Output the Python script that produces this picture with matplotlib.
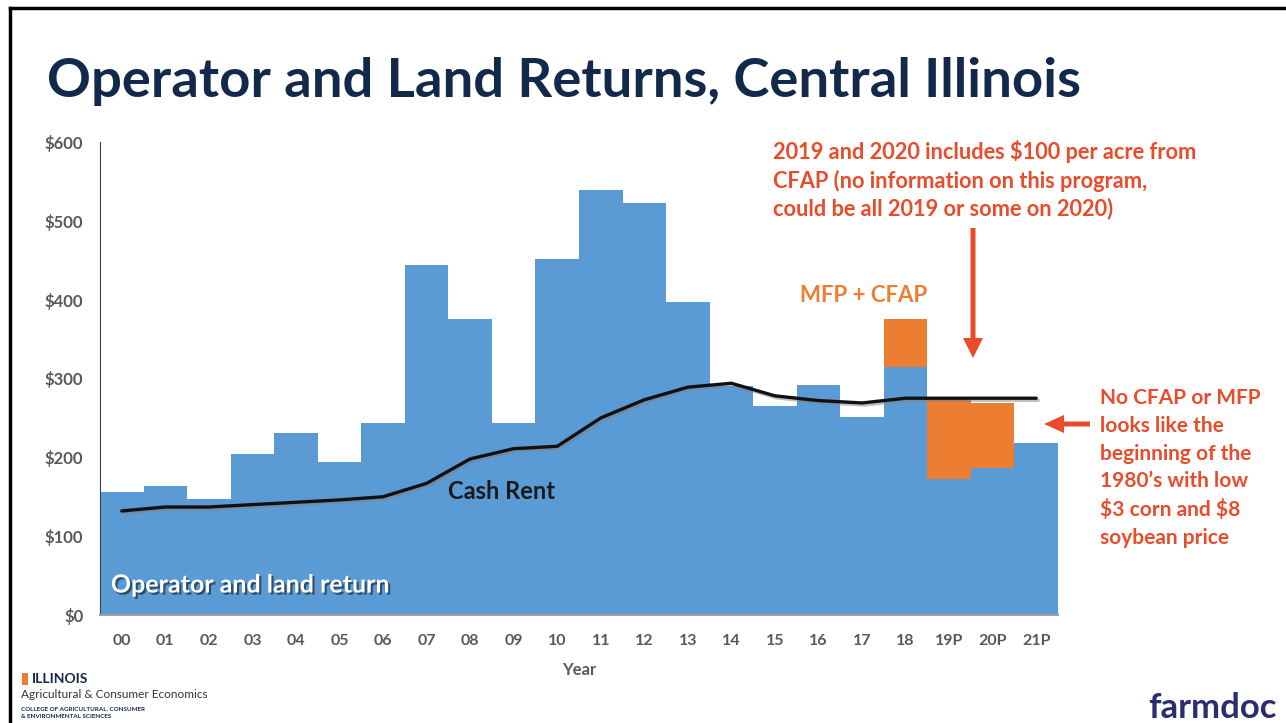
import matplotlib
matplotlib.use('Agg')
import matplotlib.pyplot as plt
import matplotlib.patheffects as pe
from matplotlib.patches import Rectangle, FancyArrow

plt.rcParams['font.family'] = ['Lato', 'DejaVu Sans']
plt.rcParams['text.parse_math'] = False

# data
years = ['00', '01', '02', '03', '04', '05', '06', '07', '08', '09', '10',
         '11', '12', '13', '14', '15', '16', '17', '18', '19P', '20P', '21P']
operator_return = [156, 164, 147, 204, 231, 194, 244, 444, 376, 244, 451,
                   539, 522, 397, 290, 265, 292, 251, 315, 173, 187, 218]
mfp_cfap = [0, 0, 0, 0, 0, 0, 0, 0, 0, 0, 0,
            0, 0, 0, 0, 0, 0, 0, 61, 101, 82, 0]
cash_rent = [132, 137, 137, 140, 143, 146, 150, 167, 198, 211, 214,
             250, 273, 289, 294, 278, 272, 269, 275, 275, 275, 275]
yticks = [0, 100, 200, 300, 400, 500, 600]

BLUE = '#5B9BD5'
ORANGE = '#ED7D31'
RED = '#E84C2A'
NAVY = '#13294B'
GRAY = '#595959'

fig = plt.figure(figsize=(12.86, 7.23), dpi=100)

# slide frame
fig.add_artist(plt.Line2D([10/1286, 1], [1 - 8/723, 1 - 8/723], color='black', lw=2.5))
fig.add_artist(plt.Line2D([10/1286, 10/1286], [0, 1 - 8/723], color='black', lw=2.5))

ax = fig.add_axes([100/1286, 108/723, 958/1286, 473/723])
x = list(range(len(years)))
ax.bar(x, operator_return, width=1.0, color=BLUE, linewidth=0)
ax.bar(x, mfp_cfap, bottom=operator_return, width=1.0, color=ORANGE, linewidth=0)
ax.plot(x, cash_rent, color='#111111', lw=2.4, solid_capstyle='round', solid_joinstyle='round',
        path_effects=[pe.SimpleLineShadow(offset=(1.5, -1.5), shadow_color='gray', alpha=0.5), pe.Normal()])

ax.set_xlim(-0.5, len(years) - 0.5)
ax.set_ylim(0, 600)
ax.set_yticks(yticks)
ax.set_yticklabels(['$' + str(v) for v in yticks])
ax.set_xticks(x)
ax.set_xticklabels(years)
ax.tick_params(length=0, labelsize=11.5, labelcolor=GRAY, pad=14)
ax.tick_params(axis='y', labelsize=12, pad=12)
for lab in ax.get_xticklabels() + ax.get_yticklabels():
    lab.set_fontweight('bold')
ax.set_xlabel('Year', fontsize=12, color=GRAY, fontweight='bold', labelpad=10)
for s in ['top', 'right']:
    ax.spines[s].set_visible(False)
ax.spines['left'].set_color('#404040')
ax.spines['bottom'].set_color('#A0A0A0')
ax.spines['bottom'].set_linewidth(1.5)

ax.text(-0.25, 38, 'Operator and land return', color='white', fontsize=18, fontweight='bold',
        va='center', ha='left',
        path_effects=[pe.withSimplePatchShadow(offset=(1.5, -1.5), shadow_rgbFace='black', alpha=0.5)])
ax.text(8.71, 157, 'Cash Rent', color='#1a1a1a', fontsize=17, fontweight='bold', ha='center', va='center')

# title
fig.text(47/1286, 1 - 82/723, 'Operator and Land Returns, Central Illinois', fontsize=39.2,
         fontweight='bold', color=NAVY, va='center', ha='left')

# annotations
fig.text(773/1286, 1 - 180/723,
         '2019 and 2020 includes $100 per acre from\nCFAP (no information on this program,\ncould be all 2019 or some on 2020)',
         fontsize=15.7, fontweight='bold', color=RED, va='center', ha='left', linespacing=1.35)
fig.text(864/1286, 1 - 295/723, 'MFP + CFAP', fontsize=16, fontweight='bold', color=ORANGE,
         va='center', ha='center')
fig.text(1100/1286, 1 - 468/723,
         'No CFAP or MFP\nlooks like the\nbeginning of the\n1980\u2019s with low\n$3 corn and $8\nsoybean price',
         fontsize=15, fontweight='bold', color=RED, va='center', ha='left', linespacing=1.47)

# arrows (figure pixel coords)
ax_arrow = fig.add_axes([0, 0, 1, 1], facecolor='none')
ax_arrow.set_xlim(0, 1286)
ax_arrow.set_ylim(723, 0)
ax_arrow.axis('off')
ax_arrow.add_patch(FancyArrow(973, 228, 0, 110, width=5, head_width=20, head_length=20,
                              length_includes_head=False, color=RED, lw=0))
ax_arrow.add_patch(FancyArrow(1090, 424, -26, 0, width=5, head_width=18, head_length=20,
                              length_includes_head=False, color=RED, lw=0))

# footer
ax_arrow.add_patch(Rectangle((22, 673), 6, 12, color=ORANGE, lw=0))
fig.text(32/1286, 1 - 679/723, 'ILLINOIS', fontsize=10, fontweight='bold', color=NAVY, va='center')
fig.text(21/1286, 1 - 695/723, 'Agricultural & Consumer Economics', fontsize=8.5, color='#333333', va='center')
fig.text(21/1286, 1 - 709/723, 'COLLEGE OF AGRICULTURAL, CONSUMER', fontsize=4.5, fontweight='bold',
         color=NAVY, va='center')
fig.text(21/1286, 1 - 716/723, '& ENVIRONMENTAL SCIENCES', fontsize=4.5, fontweight='bold',
         color=NAVY, va='center')
fig.text(1277/1286, 1 - 708/723, 'farmdoc', fontsize=25, fontweight='bold', color='#2B2D6E',
         va='center', ha='right')

fig.savefig('out.png', dpi=100)
